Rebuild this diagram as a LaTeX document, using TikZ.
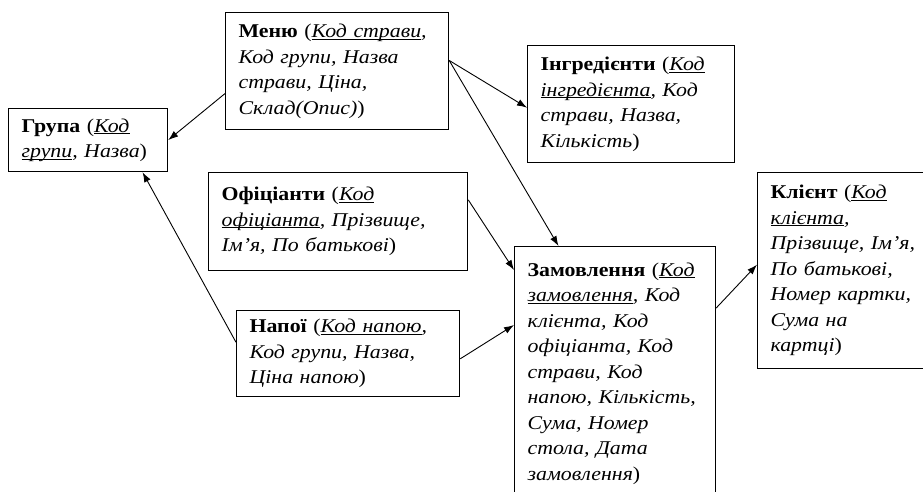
\documentclass[tikz,border=0pt]{standalone}
\usepackage{fontspec}
\setmainfont[FakeStretch=1.12]{Liberation Serif}
\usepackage{tikz}
\usetikzlibrary{positioning,calc,arrows.meta}

\newcommand{\keyattr}[1]{\underline{\smash{#1}}}

\begin{document}
\begin{tikzpicture}[
    x=1pt, y=-1pt,
    entitybox/.style={draw, line width=1.2pt, anchor=north west, align=left,
        inner xsep=13pt, inner ysep=3pt, font=\fontsize{19.5}{25.5}\selectfont},
    rel/.style={-{Latex[length=10pt,width=7pt]}, line width=0.9pt}
]
    \useasboundingbox (0,0) rectangle (923,491);
    \clip (0,0) rectangle (923,491);

    \node[entitybox, text width=133pt, minimum height=63pt] (grupa) at (8,108)
        {\textbf{Група} ({\itshape\keyattr{Код} \\ \keyattr{групи}, Назва})};
    \node[entitybox, text width=197pt, minimum height=117pt] (menu) at (225,12)
        {\textbf{Меню} ({\itshape\keyattr{Код страви}, \\ Код групи, Назва \\ страви, Ціна, \\ Склад(Опис)})};
    \node[entitybox, text width=181pt, minimum height=117pt] (ingred) at (527,45)
        {\textbf{Інгредієнти} ({\itshape\keyattr{Код} \\ \keyattr{інгредієнта}, Код \\ страви, Назва, \\ Кількість})};
    \node[entitybox, text width=233pt, minimum height=98pt] (ofitsianty) at (208,172)
        {\textbf{Офіціанти} ({\itshape\keyattr{Код} \\ \keyattr{офіціанта}, Прізвище, \\ Ім’я, По батькові})};
    \node[entitybox, text width=197pt, minimum height=86pt] (napoi) at (236,310)
        {\textbf{Напої} ({\itshape\keyattr{Код напою}, \\ Код групи, Назва, \\ Ціна напою})};
    \node[entitybox, text width=175pt, minimum height=254pt] (zamovlennia) at (514,246)
        {\textbf{Замовлення} ({\itshape\keyattr{Код} \\ \keyattr{замовлення}, Код \\ клієнта, Код \\ офіціанта, Код \\ страви, Код \\ напою, Кількість, \\ Сума, Номер \\ стола, Дата \\ замовлення})};
    \node[entitybox, text width=152pt, minimum height=196pt] (klient) at (757,172)
        {\textbf{Клієнт} ({\itshape\keyattr{Код} \\ \keyattr{клієнта}, \\ Прізвище, Ім’я, \\ По батькові, \\ Номер картки, \\ Сума на \\ картці})};

    \draw[rel] ($(menu.north west)!0.69!(menu.south west)$) -- (grupa.east);
    \draw[rel] ($(napoi.north west)!0.37!(napoi.south west)$) -- ($(grupa.south west)!0.84!(grupa.south east)$);
    \draw[rel] ($(menu.north east)!0.41!(menu.south east)$) -- ($(ingred.north west)!0.53!(ingred.south west)$);
    \draw[rel] ($(menu.north east)!0.41!(menu.south east)$) -- ($(zamovlennia.north west)!0.22!(zamovlennia.north east)$);
    \draw[rel] ($(ofitsianty.north east)!0.28!(ofitsianty.south east)$) -- ($(zamovlennia.north west)+(0,24)$);
    \draw[rel] ($(napoi.north east)!0.56!(napoi.south east)$) -- ($(zamovlennia.north west)+(0,79)$);
    \draw[rel] ($(zamovlennia.north east)+(0,62)$) -- ($(klient.north west)!0.47!(klient.south west)$);
\end{tikzpicture}
\end{document}
